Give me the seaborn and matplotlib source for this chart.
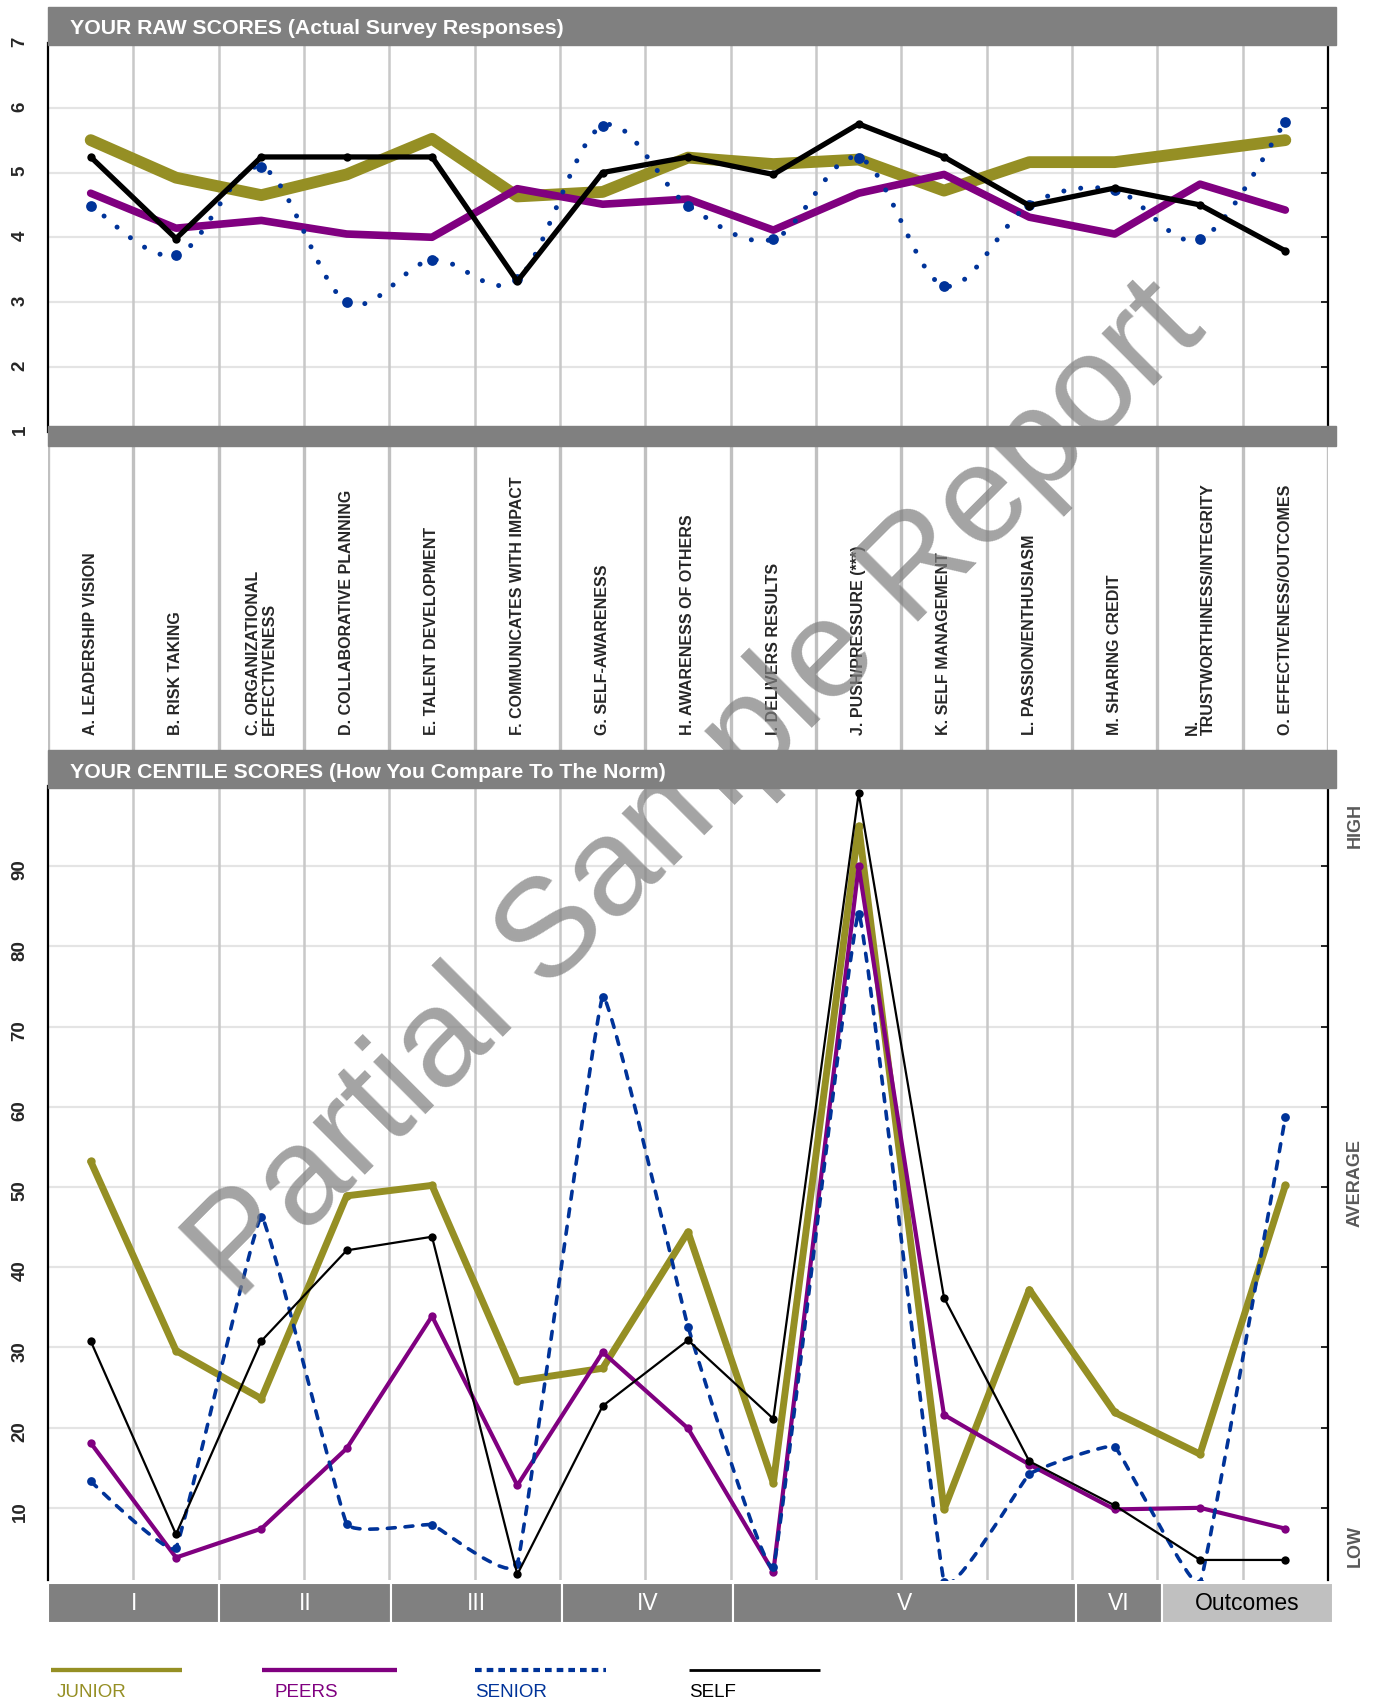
import numpy as np
import matplotlib
matplotlib.use("Agg")
import matplotlib.pyplot as plt
import seaborn as sns
from matplotlib.path import Path
from matplotlib.patches import PathPatch, Rectangle

# === data ===
competencies = [
    "A. LEADERSHIP VISION", "B. RISK TAKING", "C. ORGANIZATIONAL\nEFFECTIVENESS",
    "D. COLLABORATIVE PLANNING", "E. TALENT DEVELOPMENT", "F. COMMUNICATES WITH IMPACT",
    "G. SELF-AWARENESS", "H. AWARENESS OF OTHERS", "I. DELIVERS RESULTS",
    "J. PUSH/PRESSURE (***)", "K. SELF MANAGEMENT", "L. PASSION/ENTHUSIASM",
    "M. SHARING CREDIT", "N.\nTRUSTWORTHINESS/INTEGRITY", "O. EFFECTIVENESS/OUTCOMES",
]

# raw scores (1-7 scale)
raw_junior = [5.50, 4.92, 4.65, 4.97, 5.52, 4.63, 4.70, 5.23, 5.13, 5.20, 4.72, 5.16, 5.16, 5.33, 5.50]
raw_peers  = [4.68, 4.14, 4.26, 4.05, 4.00, 4.75, 4.51, 4.59, 4.11, 4.68, 4.97, 4.31, 4.05, 4.82, 4.42]
raw_senior = [4.49, 3.72, 5.08, 3.00, 3.65, 3.35, 5.72, 4.49, 3.97, 5.23, 3.25, 4.50, 4.73, 3.97, 5.78]
raw_self   = [5.24, 3.98, 5.24, 5.24, 5.24, 3.32, 5.00, 5.24, 4.97, 5.75, 5.24, 4.49, 4.76, 4.50, 3.79]

# centile scores
cen_junior = [53.2, 29.6, 23.6, 48.9, 50.2, 25.8, 27.4, 44.4, 13.1, 95.0, 9.8, 37.2, 21.9, 16.7, 50.2]
cen_peers  = [18.1, 3.8, 7.4, 17.4, 33.9, 12.8, 29.4, 19.9, 2.0, 90.0, 21.6, 15.4, 9.8, 10.0, 7.4]
cen_senior = [13.3, 5.0, 46.3, 8.0, 7.9, 3.0, 73.7, 32.6, 2.6, 84.1, 0.8, 14.2, 17.6, 0.6, 58.7]
cen_self   = [30.8, 6.7, 30.8, 42.1, 43.8, 1.7, 22.7, 30.9, 21.1, 99.1, 36.2, 15.8, 10.3, 3.5, 3.5]

groups = ["I", "II", "III", "IV", "V", "VI", "Outcomes"]
group_spans = [2, 2, 2, 2, 4, 1, 2]
raw_ticks = [1, 2, 3, 4, 5, 6, 7]
cen_ticks = [10, 20, 30, 40, 50, 60, 70, 80, 90]
band_labels = ["HIGH", "AVERAGE", "LOW"]
series_names = ["JUNIOR", "PEERS", "SENIOR", "SELF"]

OLIVE, PURPLE, BLUE, BLACK = "#958F24", "#800080", "#003399", "#000000"
GRAY = "#808080"

sns.set_theme(style="white")
plt.rcParams["font.family"] = ["Liberation Sans", "DejaVu Sans"]

W, H = 1376, 1702
fig = plt.figure(figsize=(W / 100, H / 100), dpi=100)


def rect(x0, y0, x1, y1):
    # pixel box (top-left origin) -> figure fraction
    return [x0 / W, 1 - y1 / H, (x1 - x0) / W, (y1 - y0) / H]


def smooth_path(x, y, k=1 / 6):
    # bezier path through the points (spreadsheet-style smoothed line)
    pts = np.column_stack([x, y])
    n = len(pts)
    verts, codes = [pts[0]], [Path.MOVETO]
    for i in range(n - 1):
        p0 = pts[i - 1] if i > 0 else pts[i]
        p1, p2 = pts[i], pts[i + 1]
        p3 = pts[i + 2] if i + 2 < n else pts[i + 1]
        verts += [p1 + (p2 - p0) * k, p2 - (p3 - p1) * k, p2]
        codes += [Path.CURVE4] * 3
    return Path(verts, codes)


xs = np.arange(len(competencies)) + 0.5


def style_panel(ax, ticks, lo, hi):
    ax.set_xlim(0, 15)
    ax.set_ylim(lo, hi)
    ax.set_facecolor("white")
    ax.set_xticks([])
    ax.set_yticks(ticks)
    ax.set_yticklabels([str(t) for t in ticks], rotation=90, fontweight="bold", fontsize=13.5)
    ax.tick_params(axis="y", left=False, right=True, direction="in", length=5,
                   width=1.2, color="black", pad=14)
    for s in ["top", "bottom"]:
        ax.spines[s].set_visible(False)
    for s in ["left", "right"]:
        ax.spines[s].set_color("black")
        ax.spines[s].set_linewidth(1.6)
    for t in ticks:
        ax.axhline(t, color="#E4E4E4", lw=1.6, zorder=0)
    ax.vlines(np.arange(1, 15), lo, hi, color="#C8C8C8", lw=1.8, zorder=0)


# === 1. raw scores ===
ax_raw = fig.add_axes(rect(48, 43, 1328, 431.5))
style_panel(ax_raw, raw_ticks, 1, 7)
sns.lineplot(x=xs, y=raw_junior, ax=ax_raw, color=OLIVE, lw=8.5, sort=False,
             estimator=None, solid_capstyle="round", zorder=3)
sns.lineplot(x=xs, y=raw_peers, ax=ax_raw, color=PURPLE, lw=5.5, sort=False,
             estimator=None, solid_capstyle="round", zorder=4)
pp = PathPatch(smooth_path(xs, raw_senior), fill=False, edgecolor=BLUE, lw=3.6,
               linestyle=(0, (0.01, 3.4)), zorder=5)
pp.set_capstyle("round")
ax_raw.add_patch(pp)
sns.scatterplot(x=xs, y=raw_senior, ax=ax_raw, color=BLUE, s=60, linewidth=0, zorder=5)
sns.lineplot(x=xs, y=raw_self, ax=ax_raw, color=BLACK, lw=3.8, sort=False, estimator=None,
             marker="o", markersize=6, markeredgewidth=0, zorder=6)

# === 2. competency labels ===
ax_lab = fig.add_axes(rect(48, 446, 1328, 750))
ax_lab.set_xlim(0, 15)
ax_lab.set_ylim(0, 1)
ax_lab.axis("off")
ax_lab.vlines(np.arange(0, 16), 0, 1, color="#C0C0C0", lw=2.4)
for x, name in zip(xs, competencies):
    ax_lab.text(x, 0.05, name, rotation=90, ha="center", va="bottom", fontsize=11.5,
                fontweight="bold", multialignment="left", linespacing=1.1)

# === 3. centile scores ===
ax_cen = fig.add_axes(rect(48, 786, 1328, 1580))
style_panel(ax_cen, cen_ticks, 1, 100)
sns.lineplot(x=xs, y=cen_junior, ax=ax_cen, color=OLIVE, lw=5, sort=False, estimator=None,
             solid_capstyle="round", marker="o", markersize=6, markeredgewidth=0, zorder=3)
sns.lineplot(x=xs, y=cen_peers, ax=ax_cen, color=PURPLE, lw=3, sort=False, estimator=None,
             marker="o", markersize=6, markeredgewidth=0, zorder=4)
pc = PathPatch(smooth_path(xs, cen_senior, k=0.04), fill=False, edgecolor=BLUE, lw=2.6,
               linestyle=(0, (2.2, 2.7)), zorder=5)
pc.set_capstyle("round")
pc.set_joinstyle("round")
ax_cen.add_patch(pc)
sns.scatterplot(x=xs, y=cen_senior, ax=ax_cen, color=BLUE, s=40, linewidth=0, zorder=5)
sns.lineplot(x=xs, y=cen_self, ax=ax_cen, color=BLACK, lw=1.6, sort=False, estimator=None,
             marker="o", markersize=6, markeredgewidth=0, zorder=6)

# === 4. group band ===
ax_band = fig.add_axes(rect(48, 1583, 1333, 1623))
ax_band.set_xlim(0, 15)
ax_band.set_ylim(0, 1)
ax_band.axis("off")
start = 0
for g, span in zip(groups, group_spans):
    last = g == "Outcomes"
    ax_band.add_patch(Rectangle((start, 0), span, 1, facecolor="#C0C0C0" if last else GRAY,
                                edgecolor="white", lw=1.5))
    ax_band.text(start + span / 2, 0.5, g, ha="center", va="center", fontsize=16.5,
                 color="black" if last else "white")
    start += span

# === overlay: header bars, legend, side labels, watermark ===
ov = fig.add_axes([0, 0, 1, 1], zorder=10)
ov.set_xlim(0, W)
ov.set_ylim(H, 0)
ov.axis("off")
ov.add_patch(Rectangle((48, 7), 1288, 38, color=GRAY))
ov.add_patch(Rectangle((48, 426), 1288, 20, color=GRAY))
ov.add_patch(Rectangle((48, 750), 1288, 38, color=GRAY))
ov.text(70, 29, "YOUR RAW SCORES (Actual Survey Responses)", color="white",
        fontsize=15.3, fontweight="bold", va="center")
ov.text(70, 773, "YOUR CENTILE SCORES (How You Compare To The Norm)", color="white",
        fontsize=15.3, fontweight="bold", va="center")

for lab, ypx in zip(band_labels, [825, 1183, 1546]):
    ov.text(1355, ypx, lab, rotation=90, ha="center", va="center", fontsize=13,
            fontweight="bold", color="#595959")

legend_x = [(51, 182), (262, 397), (475, 606), (689, 820)]
legend_text_x = [57, 274, 475, 689]
legend_colors = [OLIVE, PURPLE, BLUE, BLACK]
legend_lw = [3.1, 3.1, 3.0, 2.0]
legend_ls = ["-", "-", (0, (1.6, 1.2)), "-"]
for (x0, x1), tx, c, lw, ls, name in zip(legend_x, legend_text_x, legend_colors,
                                         legend_lw, legend_ls, series_names):
    ov.plot([x0, x1], [1670, 1670], color=c, lw=lw, linestyle=ls, solid_capstyle="butt",
            dash_capstyle="butt")
    ov.text(tx, 1697, name, color=c, fontsize=13.5, va="baseline")

ov.text(697, 792, "Partial Sample Report", rotation=45, ha="center", va="center",
        fontsize=101, color="#808080", alpha=0.72, zorder=20)

fig.savefig("out.png", dpi=100)
